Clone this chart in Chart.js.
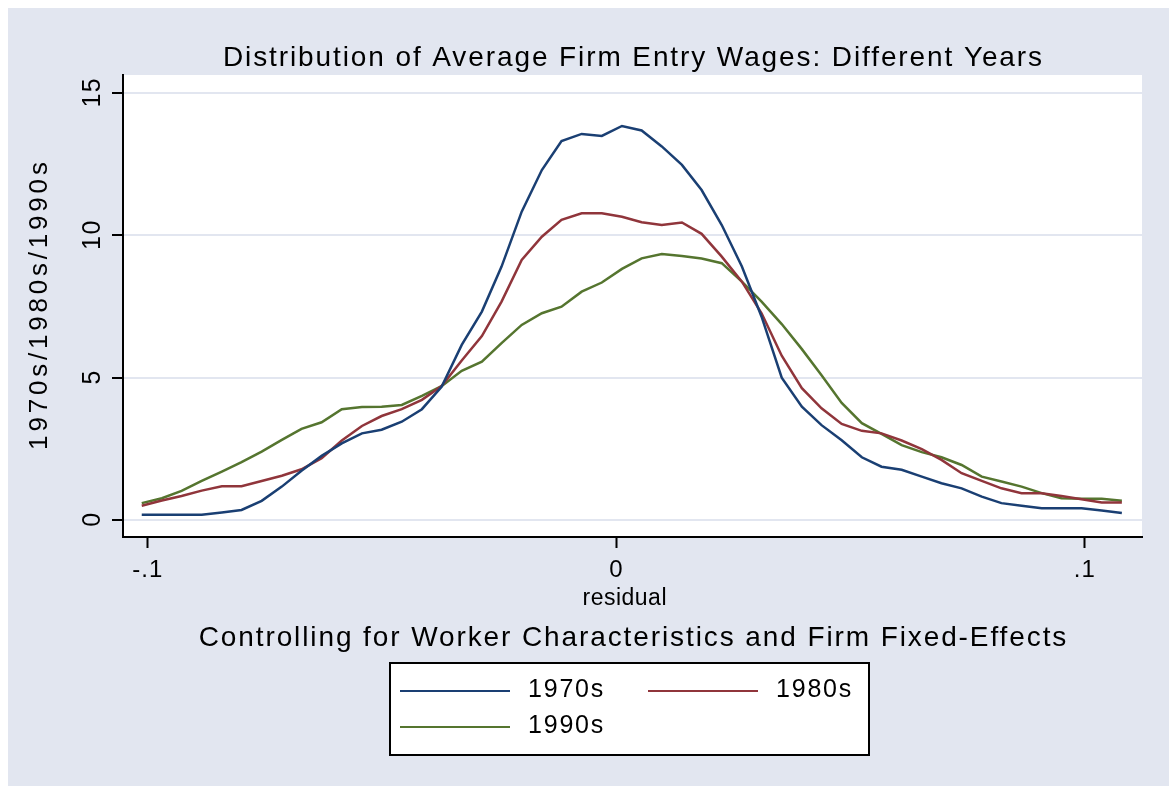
<!DOCTYPE html>
<html>
<head>
<meta charset="utf-8">
<script src="https://cdn.jsdelivr.net/npm/chart.js@4"></script>
<style>
    html, body { margin: 0; padding: 0; background: #e2e6f0; overflow: hidden; }
    canvas { display: block; }
</style>
</head>
<body>
<canvas id="myChart" width="1169" height="786"></canvas>
<script>
// kernel density points
const residual = [-0.1013, -0.0970, -0.0928, -0.0885, -0.0842, -0.0800, -0.0757, -0.0714, -0.0672, -0.0629,
    -0.0586, -0.0543, -0.0501, -0.0458, -0.0415, -0.0373, -0.0330, -0.0287, -0.0245, -0.0202,
    -0.0159, -0.0117, -0.0074, -0.0031, 0.0012, 0.0054, 0.0097, 0.0140, 0.0182, 0.0225,
    0.0268, 0.0310, 0.0353, 0.0396, 0.0438, 0.0481, 0.0524, 0.0566, 0.0609, 0.0652,
    0.0694, 0.0737, 0.0780, 0.0822, 0.0865, 0.0908, 0.0950, 0.0993, 0.1036, 0.1079];
const wages1970s = [0.18, 0.18, 0.18, 0.18, 0.26, 0.35, 0.67, 1.17, 1.73, 2.25,
    2.69, 3.04, 3.17, 3.45, 3.89, 4.68, 6.15, 7.32, 8.90, 10.83,
    12.29, 13.31, 13.56, 13.49, 13.84, 13.68, 13.12, 12.47, 11.59, 10.36,
    8.90, 7.14, 5.00, 3.98, 3.33, 2.80, 2.20, 1.87, 1.76, 1.52,
    1.29, 1.11, 0.82, 0.59, 0.50, 0.41, 0.41, 0.41, 0.33, 0.24];
const wages1980s = [0.50, 0.68, 0.84, 1.03, 1.18, 1.18, 1.37, 1.55, 1.78, 2.17,
    2.79, 3.30, 3.65, 3.89, 4.22, 4.70, 5.60, 6.46, 7.67, 9.13,
    9.95, 10.54, 10.77, 10.77, 10.65, 10.46, 10.36, 10.45, 10.05, 9.25,
    8.37, 7.26, 5.77, 4.63, 3.92, 3.37, 3.13, 3.04, 2.79, 2.49,
    2.11, 1.64, 1.37, 1.11, 0.94, 0.94, 0.84, 0.73, 0.61, 0.61];
const wages1990s = [0.59, 0.76, 1.02, 1.37, 1.70, 2.03, 2.40, 2.81, 3.20, 3.43,
    3.89, 3.97, 3.98, 4.04, 4.36, 4.70, 5.24, 5.56, 6.21, 6.85,
    7.26, 7.49, 8.02, 8.34, 8.82, 9.19, 9.34, 9.27, 9.18, 9.02,
    8.37, 7.67, 6.88, 6.00, 5.08, 4.11, 3.40, 3.02, 2.63, 2.38,
    2.20, 1.93, 1.52, 1.35, 1.17, 0.94, 0.76, 0.74, 0.74, 0.67];

const seriesLabels = ['1970s', '1980s', '1990s'];
const seriesColors = ['#1a3f73', '#90353b', '#55752f'];
const xTickValues = [-0.1, 0, 0.1];
const xTickLabels = ['-.1', '0', '.1'];
const yTickValues = [0, 5, 10, 15];
const yTickLabels = ['0', '5', '10', '15'];

const chartTitle = 'Distribution of Average Firm Entry Wages: Different Years';
const chartNote = 'Controlling for Worker Characteristics and Firm Fixed-Effects';
const xTitle = 'residual';
const yTitle = '1970s/1980s/1990s';

const FONT = '"Liberation Sans", Arial, sans-serif';
const BG = '#e2e6f0';

function toPoints(values) {
    return residual.map((x, i) => ({x: x, y: values[i]}));
}

function drawText(ctx, text, x, y, size, spacing, rotate, align) {
    ctx.save();
    ctx.translate(x, y);
    if (rotate) ctx.rotate(-Math.PI / 2);
    ctx.font = size + 'px ' + FONT;
    ctx.letterSpacing = spacing + 'px';
    ctx.fillStyle = '#000';
    ctx.textAlign = align || 'center';
    ctx.textBaseline = 'alphabetic';
    ctx.fillText(text, align ? 0 : spacing / 2, 0);
    ctx.restore();
}

const stataBackground = {
    id: 'stataBackground',
    beforeDraw(chart) {
        const ctx = chart.ctx;
        const area = chart.chartArea;
        ctx.save();
        ctx.fillStyle = BG;
        ctx.fillRect(0, 0, chart.width + 20, chart.height + 20);
        ctx.fillStyle = '#fff';
        ctx.fillRect(0, 0, chart.width, 8);
        ctx.fillRect(0, 0, 8, chart.height);
        ctx.fillRect(area.left, area.top, area.right - area.left, area.bottom - area.top);
        ctx.restore();
        ctx.letterSpacing = '1px';
    }
};

const stataText = {
    id: 'stataText',
    afterDraw(chart) {
        const ctx = chart.ctx;
        const area = chart.chartArea;
        const mid = (area.left + area.right) / 2;
        const ys = chart.scales.y;

        drawText(ctx, chartTitle, mid, 66, 28, 1.9);
        drawText(ctx, xTitle, mid - 8, 605, 23, 0.5);
        drawText(ctx, chartNote, mid, 646, 28, 1.9);
        drawText(ctx, yTitle, 47, (area.top + area.bottom) / 2, 26, 3.8, true);

        yTickValues.forEach((v, i) => {
            drawText(ctx, yTickLabels[i], 100, ys.getPixelForValue(v), 25, 1.5, true);
        });

        // legend box
        ctx.save();
        ctx.fillStyle = '#fff';
        ctx.fillRect(390, 663, 479, 92);
        ctx.strokeStyle = '#000';
        ctx.lineWidth = 2;
        ctx.strokeRect(390, 663, 479, 92);
        const slots = [[400, 691], [648, 691], [400, 727]];
        chart.data.datasets.forEach((ds, i) => {
            const [sx, sy] = slots[i];
            ctx.strokeStyle = ds.borderColor;
            ctx.lineWidth = 2;
            ctx.beginPath();
            ctx.moveTo(sx, sy);
            ctx.lineTo(sx + 110, sy);
            ctx.stroke();
            drawText(ctx, ds.label, sx + 128, sy + 6, 25, 1.8, false, 'left');
        });
        ctx.restore();
    }
};

const datasets = [wages1970s, wages1980s, wages1990s].map((values, i) => ({
    label: seriesLabels[i],
    data: toPoints(values),
    borderColor: seriesColors[i],
    borderWidth: 2.5,
    pointRadius: 0,
    tension: 0,
    fill: false
}));

new Chart(document.getElementById('myChart'), {
    type: 'line',
    data: {datasets: datasets},
    options: {
        responsive: false,
        devicePixelRatio: 1,
        animation: false,
        layout: {
            padding: {left: 0, top: 75, right: 27, bottom: 0}
        },
        plugins: {
            legend: {display: false},
            tooltip: {enabled: false},
            title: {display: false}
        },
        scales: {
            x: {
                type: 'linear',
                min: -0.1053,
                max: 0.1122,
                afterFit: scale => { scale.height = 249; },
                afterBuildTicks: scale => {
                    scale.ticks = xTickValues.map(v => ({value: v}));
                },
                grid: {
                    drawOnChartArea: false,
                    tickLength: 11,
                    tickColor: '#000',
                    tickWidth: 2
                },
                border: {display: true, color: '#000', width: 2},
                ticks: {
                    color: '#000',
                    padding: 8,
                    maxRotation: 0,
                    font: {family: FONT, size: 24},
                    callback: (val) => xTickLabels[xTickValues.indexOf(val)]
                }
            },
            y: {
                min: -0.6,
                max: 15.63,
                afterFit: scale => { scale.width = 123; },
                afterBuildTicks: scale => {
                    scale.ticks = yTickValues.map(v => ({value: v}));
                },
                grid: {
                    color: BG,
                    lineWidth: 2,
                    tickLength: 11,
                    tickColor: '#000',
                    tickWidth: 2
                },
                border: {display: true, color: '#000', width: 2},
                ticks: {display: false}
            }
        }
    },
    plugins: [stataBackground, stataText]
});
</script>
</body>
</html>
